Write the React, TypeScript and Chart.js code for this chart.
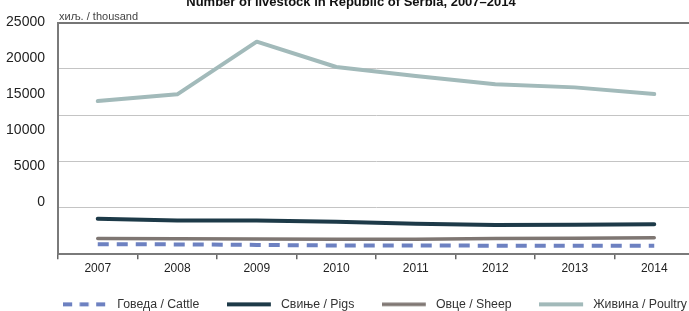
import React, { useEffect, useRef } from 'react';
import { Chart, registerables } from 'chart.js';

Chart.register(...registerables);

// ---- data ----
const years = ['2007', '2008', '2009', '2010', '2011', '2012', '2013', '2014'];
const cattle = [1087, 1057, 1002, 938, 937, 921, 913, 920];
const pigs = [3830, 3640, 3630, 3490, 3290, 3140, 3190, 3240];
const sheep = [1700, 1680, 1650, 1620, 1610, 1700, 1730, 1780];
const poultry = [16520, 17250, 22930, 20200, 19220, 18330, 18000, 17280];
const seriesLabels = ['Говеда / Cattle', 'Свиње / Pigs', 'Овце / Sheep', 'Живина / Poultry'];
const yTickValues = [0, 5000, 10000, 15000, 20000, 25000];
const titleText = 'Number of livestock in Republic of Serbia, 2007–2014';
const unitText = 'хиљ. / thousand';

const SANS = "'Liberation Sans', Arial, sans-serif";

const colors = ['#6d81c1', '#1d3a48', '#7e7672', '#a2baba'];
const widths = [4, 4, 3.5, 4];
const dashes: number[][] = [[11, 8], [], [], []];
const legendDashes: number[][] = [[9, 7.5], [], [], []];

function makeLegendLine(color: string, width: number, dash: number[]) {
  const c = document.createElement('canvas');
  c.width = 48;
  c.height = 8;
  const g = c.getContext('2d')!;
  g.strokeStyle = color;
  g.lineWidth = width;
  g.setLineDash(dash);
  g.beginPath();
  g.moveTo(0, 4);
  g.lineTo(44, 4);
  g.stroke();
  return c;
}

const unitPlugin = {
  id: 'unitLabel',
  afterDraw(chart: any) {
    const { ctx, chartArea } = chart;
    ctx.save();
    ctx.font = `11px ${SANS}`;
    ctx.fillStyle = '#444';
    ctx.textAlign = 'left';
    ctx.textBaseline = 'alphabetic';
    ctx.fillText(unitText, chartArea.left + 1, chartArea.top - 3);
    ctx.restore();
  },
};

// pull the legend a little closer to the axis labels
const legendShift = {
  id: 'legendShift',
  afterLayout(chart: any) {
    const lg = chart.legend;
    if (lg) {
      lg.top -= 7.5;
      lg.bottom -= 7.5;
    }
  },
};

export default function App() {
  const ref = useRef<HTMLCanvasElement>(null);

  useEffect(() => {
    if (!ref.current) return;
    const series = [cattle, pigs, sheep, poultry];
    const legendImgs = series.map((_, i) => makeLegendLine(colors[i], widths[i], legendDashes[i]));
    const chart = new Chart(ref.current, {
      type: 'line',
      data: {
        labels: years,
        datasets: series.map((d, i) => ({
          label: seriesLabels[i],
          data: d,
          yAxisID: 'y',
          borderColor: colors[i],
          backgroundColor: colors[i],
          borderWidth: widths[i],
          borderDash: dashes[i],
          borderCapStyle: dashes[i].length ? 'butt' : 'round',
          borderJoinStyle: 'round',
          pointRadius: 0,
          tension: 0,
          fill: false,
        })) as any,
      },
      options: {
        responsive: false,
        animation: false,
        devicePixelRatio: 1,
        layout: { padding: { left: 7.5, right: 0.5, top: 0, bottom: 0 } },
        plugins: {
          tooltip: { enabled: false },
          title: {
            display: true,
            text: titleText,
            color: '#111',
            font: { family: SANS, size: 13, weight: 'bold' },
            padding: { top: 6.7, bottom: 12.2 },
          },
          legend: {
            position: 'bottom',
            align: 'end',
            labels: {
              usePointStyle: true,
              pointStyleWidth: 48,
              padding: 27.5,
              color: '#333',
              font: { family: SANS, size: 12.3 },
              generateLabels: (ch: any) =>
                ch.data.datasets.map((ds: any, i: number) => ({
                  text: ds.label,
                  pointStyle: legendImgs[i],
                  fillStyle: colors[i],
                  strokeStyle: colors[i],
                  lineWidth: 0,
                  hidden: false,
                  datasetIndex: i,
                  fontColor: '#333',
                })),
            },
          },
        },
        scales: {
          x: {
            type: 'category',
            offset: true,
            grid: {
              display: true,
              drawOnChartArea: false,
              drawTicks: true,
              tickLength: 5,
              offset: true,
              color: '#666',
              lineWidth: 1.5,
            },
            border: { display: true, color: '#7a7a7a', width: 2 },
            ticks: {
              color: '#222',
              font: { family: SANS, size: 12 },
              padding: 2,
              maxRotation: 0,
              autoSkip: false,
            },
            afterFit: (s: any) => {
              s.height = 24;
            },
          },
          y: {
            position: 'left',
            weight: 0,
            min: 0,
            max: 25000,
            ticks: { display: false, stepSize: 5000 },
            grid: {
              drawTicks: false,
              color: (c: any) => (c.tick && c.tick.value === 25000 ? '#767676' : '#c4c4c4'),
              lineWidth: (c: any) => (c.tick && c.tick.value === 25000 ? 2 : 1),
            },
            border: { display: true, color: '#7a7a7a', width: 2 },
            afterFit: (s: any) => {
              s.width = 10;
            },
          },
          y2: {
            position: 'left',
            weight: 10,
            min: -7222,
            max: 25000,
            grid: { display: false, drawTicks: false },
            border: { display: false },
            afterBuildTicks: (s: any) => {
              s.ticks = yTickValues.map((v) => ({ value: v }));
            },
            ticks: {
              callback: (v: any) => String(v),
              color: '#222',
              font: { family: SANS, size: 14 },
              padding: 3,
            },
            afterFit: (s: any) => {
              s.width = 60.5;
            },
          },
          yR: {
            position: 'right',
            min: 0,
            max: 1,
            grid: { display: false, drawTicks: false },
            border: { display: false },
            ticks: { display: false },
            afterFit: (s: any) => {
              s.width = 20.5;
            },
          },
        } as any,
      },
      plugins: [unitPlugin, legendShift],
    });
    return () => chart.destroy();
  }, []);

  return (
    <div
      style={{
        position: 'absolute',
        left: 0,
        top: 0,
        width: 689,
        height: 311,
        overflow: 'hidden',
        background: '#fff',
      }}
    >
      <canvas
        ref={ref}
        width={735}
        height={340}
        style={{ position: 'absolute', left: -20, top: -12, width: 735, height: 340 }}
      />
    </div>
  );
}
